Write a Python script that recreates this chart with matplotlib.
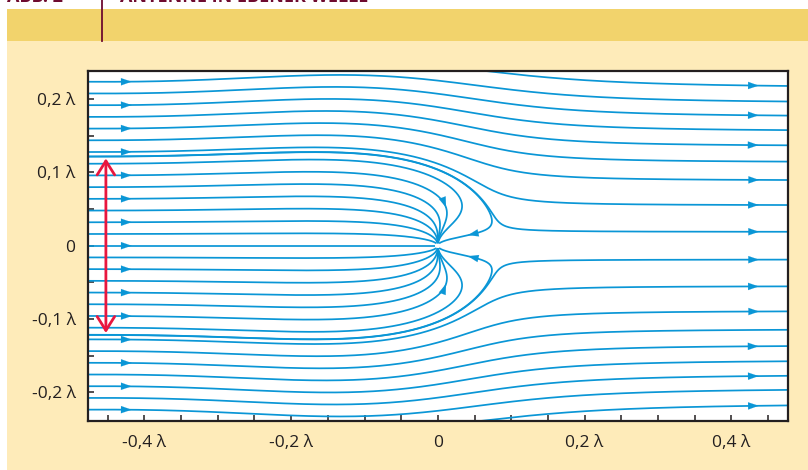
import numpy as np
import matplotlib.pyplot as plt
from matplotlib.patches import Rectangle
from matplotlib.lines import Line2D

plt.rcParams['font.family'] = ['Open Sans', 'DejaVu Sans']

# axes range, in wavelengths
x_range = [-0.477, 0.477]
y_range = [-0.2385, 0.2385]
x_ticks = np.arange(-0.45, 0.451, 0.05)
y_ticks = np.arange(-0.20, 0.201, 0.05)
x_tick_labels = {-0.4: "-0,4 λ", -0.2: "-0,2 λ", 0.0: "0", 0.2: "0,2 λ", 0.4: "0,4 λ"}
y_tick_labels = {0.2: "0,2 λ", 0.1: "0,1 λ", 0.0: "0", -0.1: "-0,1 λ", -0.2: "-0,2 λ"}

# field lines
seed_step = 0.01596            # spacing of the lines entering at the left edge
seed_index = list(range(-14, 15))
left_arrow_index = [k for k in seed_index if k % 2 == 0]
top_entry_y = [0.2177, -0.2177]   # lines that come in over the top/bottom edge (y at right edge)
right_arrow_y = [0.2177, 0.1764, 0.1359, 0.0892, 0.0542, 0.0156,
                 -0.0156, -0.0542, -0.0892, -0.1359, -0.1764, -0.2177]
inner_arrow_xy = [(0.009, 0.051), (0.040, 0.019), (0.009, -0.051), (0.040, -0.019)]
capture_halfwidth = 0.119      # red double arrow
dipole_strength = 0.2          # absorbing dipole, fraction of the max-absorption moment

# ---- Poynting vector of plane wave + absorbing dipole (plane normal to dipole) ----
kw = 2*np.pi
p0 = 1j*3*np.pi/kw**3*dipole_strength

def direction(x, y):
    r = np.hypot(x, y)
    kr = kw*r
    pre = kw**2/(4*np.pi)*np.exp(1j*kr)/r*p0
    ph = np.exp(1j*kw*x)
    Ez = ph + pre*(1 - 1/kr**2 + 1j/kr)
    g = pre*(1 + 1j/kr)
    Hx = g*y/r
    Hy = -ph - g*x/r
    Sx = np.real(-Ez*np.conj(Hy))
    Sy = np.real(Ez*np.conj(Hx))
    m = np.hypot(Sx, Sy) + 1e-30
    return Sx/m, Sy/m

def trace(x0, y0, h=0.001, nmax=2600):
    x = np.array(x0, float); y = np.array(y0, float)
    alive = np.ones(x.shape, bool)
    captured = np.zeros(x.shape, bool)
    xs, ys = [x.copy()], [y.copy()]
    for _ in range(nmax):
        a = direction(x, y)
        b = direction(x + h/2*a[0], y + h/2*a[1])
        c = direction(x + h/2*b[0], y + h/2*b[1])
        d = direction(x + h*c[0], y + h*c[1])
        x = np.where(alive, x + h/6*(a[0] + 2*b[0] + 2*c[0] + d[0]), x)
        y = np.where(alive, y + h/6*(a[1] + 2*b[1] + 2*c[1] + d[1]), y)
        xs.append(x.copy()); ys.append(y.copy())
        cap = np.hypot(x, y) < 0.004
        captured |= cap & alive
        alive &= ~cap & (np.abs(x) < 0.479) & (np.abs(y) < 0.241)
        if not alive.any():
            break
    xs = np.array(xs); ys = np.array(ys)
    lines = []
    for i in range(len(x)):
        px, py = xs[:, i], ys[:, i]
        keep = np.r_[True, (np.diff(px) != 0) | (np.diff(py) != 0)]
        lines.append(np.c_[px[keep], py[keep]])
    return lines, captured

x_left = x_range[0] + 0.0005

# separatrix between captured and passing lines (upper half)
lo, hi = 0.10, 0.14
for _ in range(2):
    trial = np.linspace(lo, hi, 61)
    _, cap = trace(np.full(trial.shape, x_left), trial, h=0.002, nmax=1300)
    j = np.where(cap)[0].max()
    lo, hi = trial[j], trial[j + 1]
sep = 0.5*(lo + hi)
delta = 1.2e-4

seeds_y = [k*seed_step for k in seed_index] + [sep + delta, sep - delta, -sep - delta, -sep + delta]
left_lines, _ = trace(np.full(len(seeds_y), x_left), np.array(seeds_y))
back = [l[::-1] for l in trace(np.full(2, x_range[1] - 0.0005), np.array(top_entry_y), h=-0.001)[0]]
lines = left_lines + back

# ---- figure ----
fig = plt.figure(figsize=(8.08, 4.70), dpi=100)
W, H = 808, 470
fig.add_artist(Rectangle((7/W, 1 - 41/H), 801/W, 32/H, transform=fig.transFigure,
                         facecolor="#F2D36C", edgecolor="none", zorder=-5))
fig.add_artist(Rectangle((7/W, 0), 801/W, 1 - 41/H, transform=fig.transFigure,
                         facecolor="#FEEBB9", edgecolor="none", zorder=-5))
fig.add_artist(Line2D([101.7/W, 101.7/W], [1 - 41/H, 1], transform=fig.transFigure,
                      color="#6E0B2F", lw=1.3, zorder=-4))
fig.text(7/W, 1 - 2/H, "ABB. 2", color="#6E0B2F", fontsize=13, fontweight="bold",
         ha="left", va="baseline")
fig.text(120/W, 1 - 2/H, "ANTENNE IN EBENER WELLE", color="#6E0B2F", fontsize=13,
         fontweight="bold", ha="left", va="baseline")

ax = fig.add_axes([88/W, 49.3/H, 699.7/W, 350/H])
ax.set_facecolor("white")
blue = "#0A96D6"
for l in lines:
    ax.plot(l[:, 0], l[:, 1], color=blue, lw=1.25, solid_capstyle="butt")

def arrow_at(l, i):
    j = max(i - 3, 0)
    ax.annotate("", xy=(l[i, 0], l[i, 1]), xytext=(l[j, 0], l[j, 1]),
                arrowprops=dict(arrowstyle="-|>,head_length=7.5,head_width=2.6", mutation_scale=1,
                                color=blue, lw=0.1, shrinkA=0, shrinkB=0))

for k, l in zip(seed_index, left_lines):
    if k in left_arrow_index:
        i = np.argmax(l[:, 0] >= -0.418)
        arrow_at(l, i)
for yv in right_arrow_y:
    ends = [l for l in lines if l[-1, 0] > 0.47]
    l = min(ends, key=lambda q: abs(q[-1, 1] - yv))
    if abs(l[-1, 1] - yv) < 0.014:
        arrow_at(l, np.argmax(l[:, 0] >= 0.437))
for (px, py) in inner_arrow_xy:
    best = min(((np.hypot(l[:, 0] - px, l[:, 1] - py).min(), n) for n, l in enumerate(lines)))
    l = lines[best[1]]
    arrow_at(l, int(np.argmin(np.hypot(l[:, 0] - px, l[:, 1] - py))))

ax.annotate("", xy=(-0.4526, capture_halfwidth), xytext=(-0.4526, -capture_halfwidth),
            arrowprops=dict(arrowstyle="<->,head_length=10,head_width=6.3", mutation_scale=1,
                            color="#E8173F", lw=2.0, shrinkA=0, shrinkB=0))

ax.set_xlim(x_range)
ax.set_ylim(y_range)
ax.set_xticks(x_ticks)
ax.set_xticklabels([x_tick_labels.get(round(t, 2), "") for t in x_ticks])
ax.set_yticks(y_ticks)
ax.set_yticklabels([y_tick_labels.get(round(t, 2), "") for t in y_ticks])
ax.tick_params(direction="in", length=4, width=1.1, color="#231F20", labelcolor="#231F20",
               labelsize=12.5)
ax.tick_params(axis="x", pad=10)
ax.tick_params(axis="y", pad=9)
for s in ax.spines.values():
    s.set_linewidth(1.6)
    s.set_color("#231F20")

fig.savefig("out.png", dpi=100)
